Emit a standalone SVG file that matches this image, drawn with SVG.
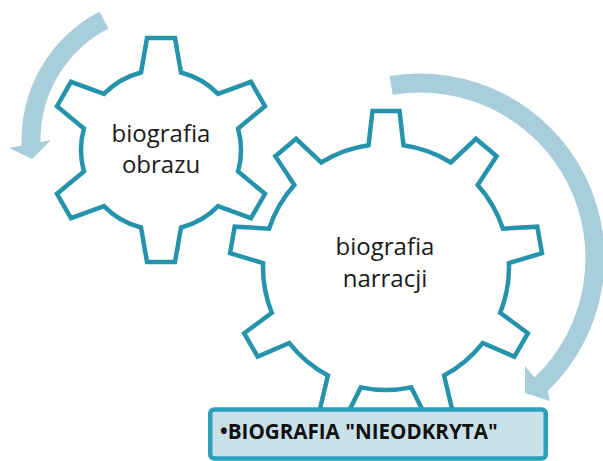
<svg xmlns="http://www.w3.org/2000/svg" width="603" height="461" viewBox="0 0 603 461">
  <style>
    .gear { fill: #ffffff; stroke: #2593ab; stroke-width: 4.5; stroke-linejoin: miter; }
    .arrow { fill: #a8cddb; stroke: none; }
    .gtxt { font-family: "Open Sans", "Liberation Sans", sans-serif; font-size: 24px; fill: #1a1a1a; text-anchor: middle; }
    .box { fill: #c9e2e9; stroke: #2aa0bb; stroke-width: 4.5; }
    .btxt { font-family: "Open Sans", "Liberation Sans", sans-serif; font-size: 20.6px; font-weight: bold; fill: #111111; }
  </style>
  <g id="connectors">
    <path id="arrow-left" class="arrow" d="M99.6,11.6 A144.5,144.5 0 0 0 21.6,145.6 L9,148 L32,159 L51,140 L40.5,142 A125.5,125.5 0 0 1 108.4,28.4 Z"/>
    <path id="arrow-right" class="arrow" d="M389.6,76.1 A184.5,184.5 0 0 1 547.7,391.2 L550,401 L525,393 L525,366 L534.5,377.5 A165.5,165.5 0 0 0 392.7,94.8 Z"/>
  </g>
  <g id="gear-obrazu">
    <path class="gear" d="M141,72.54 L147,38 L175,38 L181,72.54 A80,80 0 0 1 218.08,93.95 L250.99,81.88 L264.99,106.12 L238.08,128.59 A80,80 0 0 1 238.08,171.41 L264.99,193.88 L250.99,218.12 L218.08,206.05 A80,80 0 0 1 181,227.46 L175,262 L147,262 L141,227.46 A80,80 0 0 1 103.92,206.05 L71.01,218.12 L57.01,193.88 L83.92,171.41 A80,80 0 0 1 83.92,128.59 L57.01,106.12 L71.01,81.88 L103.92,93.95 A80,80 0 0 1 141,72.54 Z"/>
    <text class="gtxt" x="161" y="142">biografia</text>
    <text class="gtxt" x="161" y="173">obrazu</text>
  </g>
  <g id="gear-narracji">
    <path class="gear" d="M368.5,145.25 L372.5,111 L399.5,111 L403.5,145.25 A123,123 0 0 1 450.85,162.49 L475.94,138.82 L496.62,156.18 L477.67,184.99 A123,123 0 0 1 502.86,228.63 L537.29,226.63 L541.97,253.21 L508.94,263.09 A123,123 0 0 1 500.19,312.72 L527.85,333.31 L514.35,356.69 L482.69,343.04 A123,123 0 0 1 444.08,375.42 L452.04,408.97 L426.66,418.21 L411.2,387.4 A123,123 0 0 1 360.8,387.4 L345.34,418.21 L319.96,408.97 L327.92,375.42 A123,123 0 0 1 289.31,343.04 L257.65,356.69 L244.15,333.31 L271.81,312.72 A123,123 0 0 1 263.06,263.09 L230.03,253.21 L234.71,226.63 L269.14,228.63 A123,123 0 0 1 294.33,184.99 L275.38,156.18 L296.06,138.82 L321.15,162.49 A123,123 0 0 1 368.5,145.25 Z"/>
    <text class="gtxt" x="385" y="255">biografia</text>
    <text class="gtxt" x="385" y="287">narracji</text>
  </g>
  <g id="box-nieodkryta">
    <rect class="box" x="210.25" y="409.5" width="335.5" height="49" rx="4" ry="4"/>
    <text class="btxt" x="220" y="439">•BIOGRAFIA "NIEODKRYTA"</text>
  </g>
</svg>
